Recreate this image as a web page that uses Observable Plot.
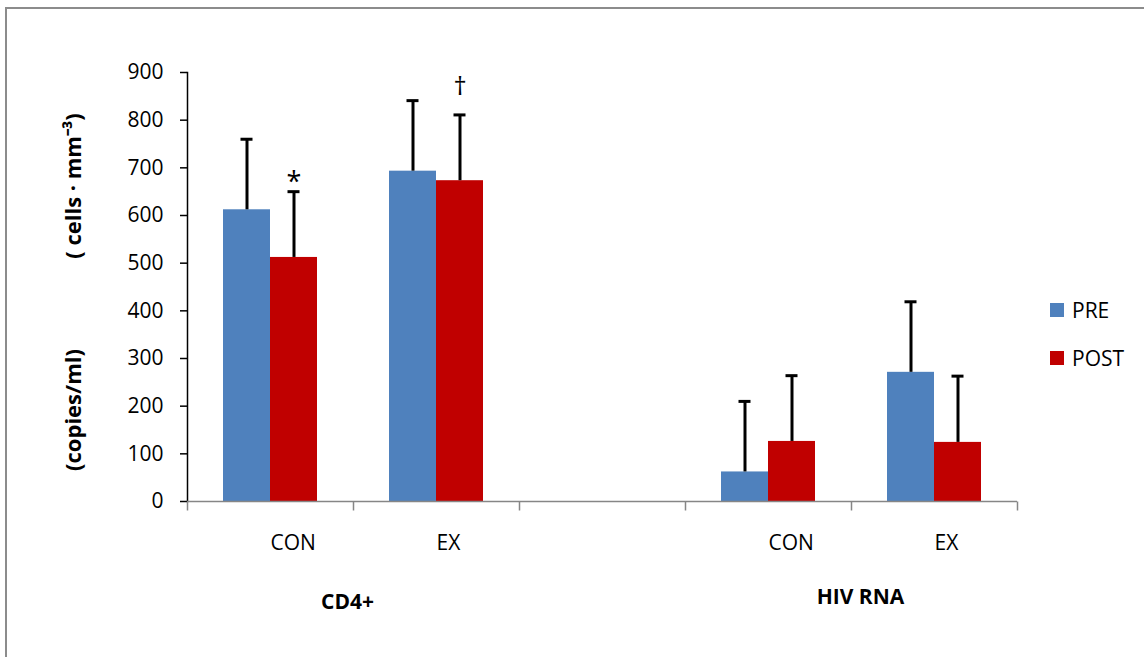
<!DOCTYPE html>
<html>
<head>
<meta charset="utf-8">
<script src="https://cdn.jsdelivr.net/npm/d3@7"></script>
<script src="https://cdn.jsdelivr.net/npm/@observablehq/plot@0.6"></script>
<style>
  html, body { margin: 0; padding: 0; background: #fff; }
  #wrap { position: relative; width: 1144px; height: 657px; overflow: hidden; font-family: "Open Sans", sans-serif; color: #000; }
  #border { position: absolute; left: 5px; top: 7px; right: -10px; bottom: -10px; border-left: 2px solid #8c8c8c; border-top: 2px solid #8c8c8c; }
  #chart { position: absolute; left: 0; top: 0; }
  #chart svg g[aria-label="y-axis tick"] { stroke: #868686; stroke-width: 1.5px; }
  #chart svg [aria-label="frame"] { stroke: #868686; stroke-width: 1.5px; }
  .ylab { position: absolute; transform: translate(-50%, -50%) rotate(-90deg); white-space: nowrap; font-weight: bold; font-size: 22px; }
  .leg { position: absolute; font-size: 21px; display: flex; align-items: center; }
  .leg span.sw { display: inline-block; width: 14px; height: 14px; margin-right: 8px; }
</style>
</head>
<body>
<div id="wrap">
  <div id="border"></div>
  <div id="chart"></div>
  <div class="ylab" style="left:72px; top:186px;">( cells · mm⁻³)</div>
  <div class="ylab" style="left:72px; top:410px;">(copies/ml)</div>
  <div id="legend"></div>
</div>
<script>
// ---- data ----
const groups = ["CD4+", "CD4+", "HIV RNA", "HIV RNA"];
const conditions = ["CON", "EX", "CON", "EX"];
const series = ["PRE", "POST"];
const preMean = [612, 693, 62, 271];
const preSD = [148, 148, 148, 148];
const postMean = [512, 673, 126, 124];
const postSD = [138, 138, 138, 139];
const postSig = ["*", "†", "", ""];
const slotKeys = ["CD4+|CON", "CD4+|EX", "gap", "HIV RNA|CON", "HIV RNA|EX"];
const slotLabels = ["CON", "EX", "", "CON", "EX"];
const yTicks = [0, 100, 200, 300, 400, 500, 600, 700, 800, 900];
const colors = ["#4f81bd", "#c00000"];

// ---- table ----
const table = [];
conditions.forEach((c, i) => {
  const slot = groups[i] + "|" + c;
  table.push({slot, series: "PRE", value: preMean[i], sd: preSD[i], sig: ""});
  table.push({slot, series: "POST", value: postMean[i], sd: postSD[i], sig: postSig[i]});
});
const errTop = d => d.value + d.sd;

const tickSym = {draw(ctx) { ctx.moveTo(0, 0); ctx.lineTo(0, 9); }};
const axisGray = "#868686";

const chart = Plot.plot({
  width: 1144,
  height: 657,
  marginLeft: 187,
  marginRight: 127,
  marginTop: 72,
  marginBottom: 156,
  style: {fontFamily: "Open Sans, sans-serif", fontSize: "21px", color: "#000", background: "transparent", overflow: "visible"},
  fx: {domain: slotKeys, padding: 0, axis: null},
  x: {domain: series, paddingInner: 0, paddingOuter: 0.757, axis: null},
  y: {domain: [0, 900], ticks: yTicks, tickSize: 7, tickPadding: 17, line: true, label: null},
  color: {domain: series, range: colors},
  marks: [
    Plot.barY(table, {fx: "slot", x: "series", y: "value", fill: "series"}),
    Plot.ruleY([0], {stroke: axisGray, strokeWidth: 1.5}),
    Plot.dot(slotKeys, {fx: d => d, frameAnchor: "bottom-left", symbol: tickSym, stroke: axisGray, strokeWidth: 1.5, fill: "none"}),
    Plot.dot([slotKeys[slotKeys.length - 1]], {fx: d => d, frameAnchor: "bottom-right", symbol: tickSym, stroke: axisGray, strokeWidth: 1.5, fill: "none"}),
    Plot.ruleX(table, {fx: "slot", x: "series", y1: "value", y2: errTop, stroke: "#000", strokeWidth: 3}),
    Plot.tickY(table, {fx: "slot", x: "series", y: errTop, stroke: "#000", strokeWidth: 3, insetLeft: 17.5, insetRight: 17.5}),
    Plot.text(table.filter(d => d.sig === "*"), {fx: "slot", x: "series", y: errTop, text: "sig", fontSize: 27, dy: -9}),
    Plot.text(table.filter(d => d.sig === "†"), {fx: "slot", x: "series", y: errTop, text: "sig", fontSize: 26, dy: -28}),
    Plot.text(slotKeys, {fx: d => d, text: (d, i) => slotLabels[i], frameAnchor: "bottom", textAnchor: "start", dy: 48}),
    Plot.text(["CD4+|CON"], {fx: d => d, text: ["CD4+"], frameAnchor: "bottom-right", textAnchor: "middle", dx: -6, dy: 107, fontWeight: "bold"}),
    Plot.text(["HIV RNA|CON"], {fx: d => d, text: ["HIV RNA"], frameAnchor: "bottom-right", textAnchor: "middle", dx: 9, dy: 102, fontWeight: "bold"})
  ]
});
document.getElementById("chart").appendChild(chart);

// ---- legend ----
const legend = document.getElementById("legend");
series.forEach((s, i) => {
  const el = document.createElement("div");
  el.className = "leg";
  el.style.left = "1050px";
  el.style.top = (296 + i * 48) + "px";
  el.innerHTML = `<span class="sw" style="background:${colors[i]}"></span><span>${s}</span>`;
  legend.appendChild(el);
});
</script>
</body>
</html>
